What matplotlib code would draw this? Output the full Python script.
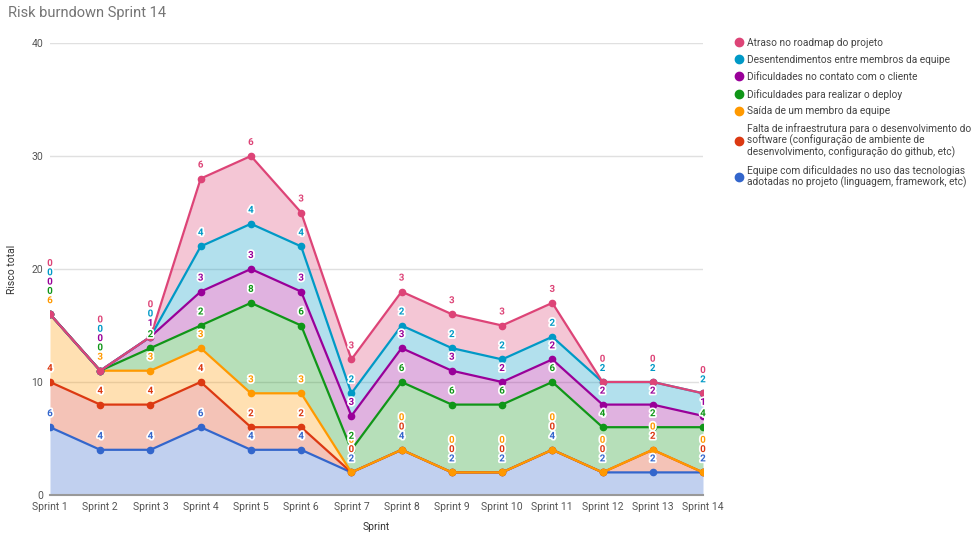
import matplotlib
matplotlib.use("Agg")
import matplotlib.pyplot as plt
import matplotlib.patheffects as pe
from matplotlib.lines import Line2D
import numpy as np

plt.rcParams['font.family'] = ['Roboto', 'DejaVu Sans']

sprints = ["Sprint %d" % i for i in range(1, 15)]

# series from bottom of the stack to the top
equipe = [6, 4, 4, 6, 4, 4, 2, 4, 2, 2, 4, 2, 2, 2]
falta = [4, 4, 4, 4, 2, 2, 0, 0, 0, 0, 0, 0, 2, 0]
saida = [6, 3, 3, 3, 3, 3, 0, 0, 0, 0, 0, 0, 0, 0]
deploy = [0, 0, 2, 2, 8, 6, 2, 6, 6, 6, 6, 4, 2, 4]
cliente = [0, 0, 1, 3, 3, 3, 3, 3, 3, 2, 2, 2, 2, 1]
desent = [0, 0, 0, 4, 4, 4, 2, 2, 2, 2, 2, 2, 2, 2]
atraso = [0, 0, 0, 6, 6, 3, 3, 3, 3, 3, 3, 0, 0, 0]

series = [equipe, falta, saida, deploy, cliente, desent, atraso]
names = [
    "Equipe com dificuldades no uso das tecnologias\nadotadas no projeto (linguagem, framework, etc)",
    "Falta de infraestrutura para o desenvolvimento do\nsoftware (configuração de ambiente de\ndesenvolvimento, configuração do github, etc)",
    "Saída de um membro da equipe",
    "Dificuldades para realizar o deploy",
    "Dificuldades no contato com o cliente",
    "Desentendimentos entre membros da equipe",
    "Atraso no roadmap do projeto",
]
colors = ["#3366cc", "#dc3912", "#ff9900", "#109618", "#990099", "#0099c6", "#dd4477"]

fig = plt.figure(figsize=(9.8, 5.39), dpi=100)
ax = fig.add_axes([50 / 980, 1 - 495 / 539, 653 / 980, 452 / 539])

x = np.arange(len(sprints))
data = np.array(series)
tops = np.cumsum(data, axis=0)
bottoms = tops - data

for i in range(len(series)):
    ax.fill_between(x, bottoms[i], tops[i], color=colors[i], alpha=0.3, linewidth=0, zorder=2)
for i in range(len(series)):
    ax.plot(x, tops[i], color=colors[i], lw=1.6, marker="o", ms=4.5, zorder=3 + i)

# data labels above each point, pushed up when they collide
for j in range(len(x)):
    prev = None
    for i in range(len(series)):
        py = ax.transData.transform((x[j], tops[i][j]))[1]
        want = py + 14
        if prev is not None and want < prev + 9.3:
            want = prev + 9.3
        prev = want
        off = want - py
        ax.annotate(str(series[i][j]), (x[j], tops[i][j]), xytext=(0, off * 0.72),
                    textcoords="offset points", ha="center", va="center",
                    fontsize=7, fontweight="bold", color=colors[i], zorder=20,
                    path_effects=[pe.withStroke(linewidth=2.5, foreground="white")])

ax.set_xlim(0, len(x) - 1)
ax.set_ylim(0, 40)
ax.set_yticks([0, 10, 20, 30, 40])
ax.set_xticks(x)
ax.set_xticklabels(sprints)
ax.grid(axis="y", color="#e0e0e0", lw=1, zorder=0)
for s in ["top", "right", "left"]:
    ax.spines[s].set_visible(False)
ax.spines["bottom"].set_color("#999999")
ax.spines["bottom"].set_linewidth(1.5)
ax.tick_params(axis="both", length=0, labelsize=7.5, colors="#555555", pad=5)
ax.set_xlabel("Sprint", fontsize=7.5, color="#333333", labelpad=7)
ax.set_ylabel("Risco total", fontsize=7.5, color="#333333")
ax.yaxis.set_label_coords(-33 / 653, 0.5)

fig.text(8 / 980, 1 - 13 / 539, "Risk burndown Sprint 14", fontsize=10.5, color="#757575",
         ha="left", va="center")

handles = [Line2D([], [], marker="o", ls="", color=colors[i], ms=6) for i in range(len(series))][::-1]
leg = fig.legend(handles, names[::-1], loc="upper left", bbox_to_anchor=(733 / 980, 1 - 38 / 539),
                 frameon=False, fontsize=7.3, labelspacing=0.68, handletextpad=0.15,
                 handlelength=1.2, borderaxespad=0, borderpad=0)
for t in leg.get_texts():
    t.set_color("#444444")
    t.set_linespacing(1.05)

fig.savefig("out.png", dpi=100)
